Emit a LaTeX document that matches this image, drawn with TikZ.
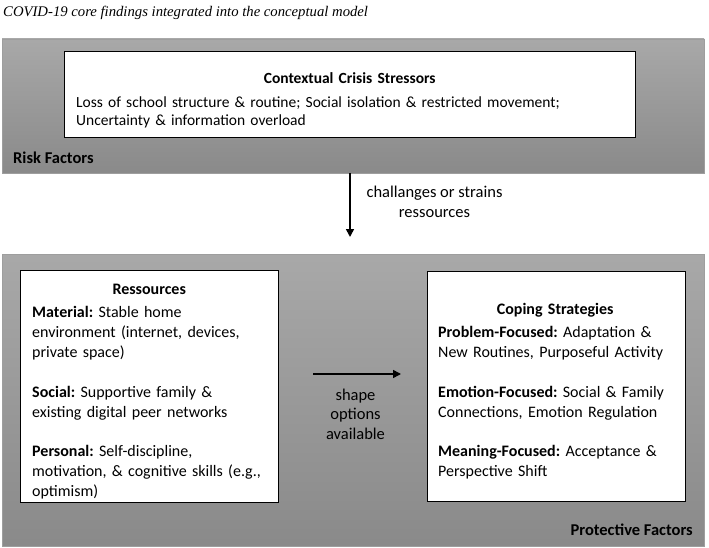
\documentclass[tikz,border=0pt]{standalone}
\usepackage{fontspec}
\setmainfont{Carlito}
\newfontfamily\titlefont{Liberation Serif}
\usetikzlibrary{arrows.meta}
\frenchspacing
\begin{document}
\begin{tikzpicture}[x=1pt,y=-1pt,
  panel/.style={rectangle, inner sep=0pt, top color=black!34, bottom color=black!46, draw=black!38, line width=0.6pt},
  whitebox/.style={rectangle, draw=black, line width=1pt, fill=white, inner sep=0pt},
  boxtext/.style={anchor=north west, inner sep=0pt, align=left},
  lbl/.style={font=\fontsize{16.5}{20}\selectfont, align=center, inner sep=0pt},
  arr/.style={line width=1.6pt, -{Triangle[length=8pt,width=8pt]}},
]
\useasboundingbox (0,0) rectangle (709,548);
\node[anchor=base west, inner sep=0pt, font=\titlefont\itshape\fontsize{14.7}{18}\selectfont] (title) at (3,16.5) {COVID-19 core findings integrated into the conceptual model};

% top panel
\node[panel, minimum width=702pt, minimum height=134pt] (risk) at (353,106) {};
\node[anchor=west, inner sep=0pt, font=\fontsize{16.5}{18}\selectfont\bfseries] (risklbl) at (13,158) {Risk Factors};
\node[whitebox, minimum width=571pt, minimum height=86pt] (stress) at (349.5,95) {};
\node[boxtext, text width=547pt, font=\fontsize{15.5}{18.5}\selectfont] (stresstxt) at (76,72.5)
 {\makebox[\linewidth]{\bfseries Contextual Crisis Stressors}\\[5pt]
  Loss of school structure \& routine; Social isolation \& restricted movement;\\
  Uncertainty \& information overload};

% bottom panel
\node[panel, minimum width=702pt, minimum height=292pt] (prot) at (353,400) {};
\node[anchor=east, inner sep=0pt, font=\fontsize{16.5}{18}\selectfont\bfseries] (protlbl) at (693,530) {Protective Factors};

\node[whitebox, minimum width=258pt, minimum height=232pt] (res) at (149,386) {};
\node[boxtext, text width=234pt, font=\fontsize{16}{20}\selectfont] (restxt) at (32,283.5)
 {\makebox[\linewidth]{\bfseries Ressources}\\[3pt]
  \textbf{Material:} Stable home\\
  environment (internet, devices,\\
  private space)\\[20pt]
  \textbf{Social:} Supportive family \&\\
  existing digital peer networks\\[19pt]
  \textbf{Personal:} Self-discipline,\\
  motivation, \& cognitive skills (e.g.,\\
  optimism)};

\node[whitebox, minimum width=258pt, minimum height=230pt] (cope) at (556,386) {};
\node[boxtext, text width=234pt, font=\fontsize{16}{20}\selectfont] (copetxt) at (438,303.5)
 {\makebox[\linewidth]{\bfseries Coping Strategies}\\[3pt]
  \textbf{Problem-Focused:} Adaptation \&\\
  New Routines, Purposeful Activity\\[20pt]
  \textbf{Emotion-Focused:} Social \& Family\\
  Connections, Emotion Regulation\\[19pt]
  \textbf{Meaning-Focused:} Acceptance \&\\
  Perspective Shift};

% arrows
\coordinate (dtop) at (350,173);
\coordinate (dbot) at (350,237);
\draw[arr] (dtop) -- (dbot);
\node[lbl] (strainlbl) at (434.5,202) {challanges or strains\\ressources};

\coordinate (hl) at (313,374);
\coordinate (hr) at (401,374);
\draw[arr] (hl) -- (hr);
\node[lbl, font=\fontsize{16.5}{19.5}\selectfont] (shapelbl) at (355.5,414) {shape\\options\\available};
\end{tikzpicture}
\end{document}
